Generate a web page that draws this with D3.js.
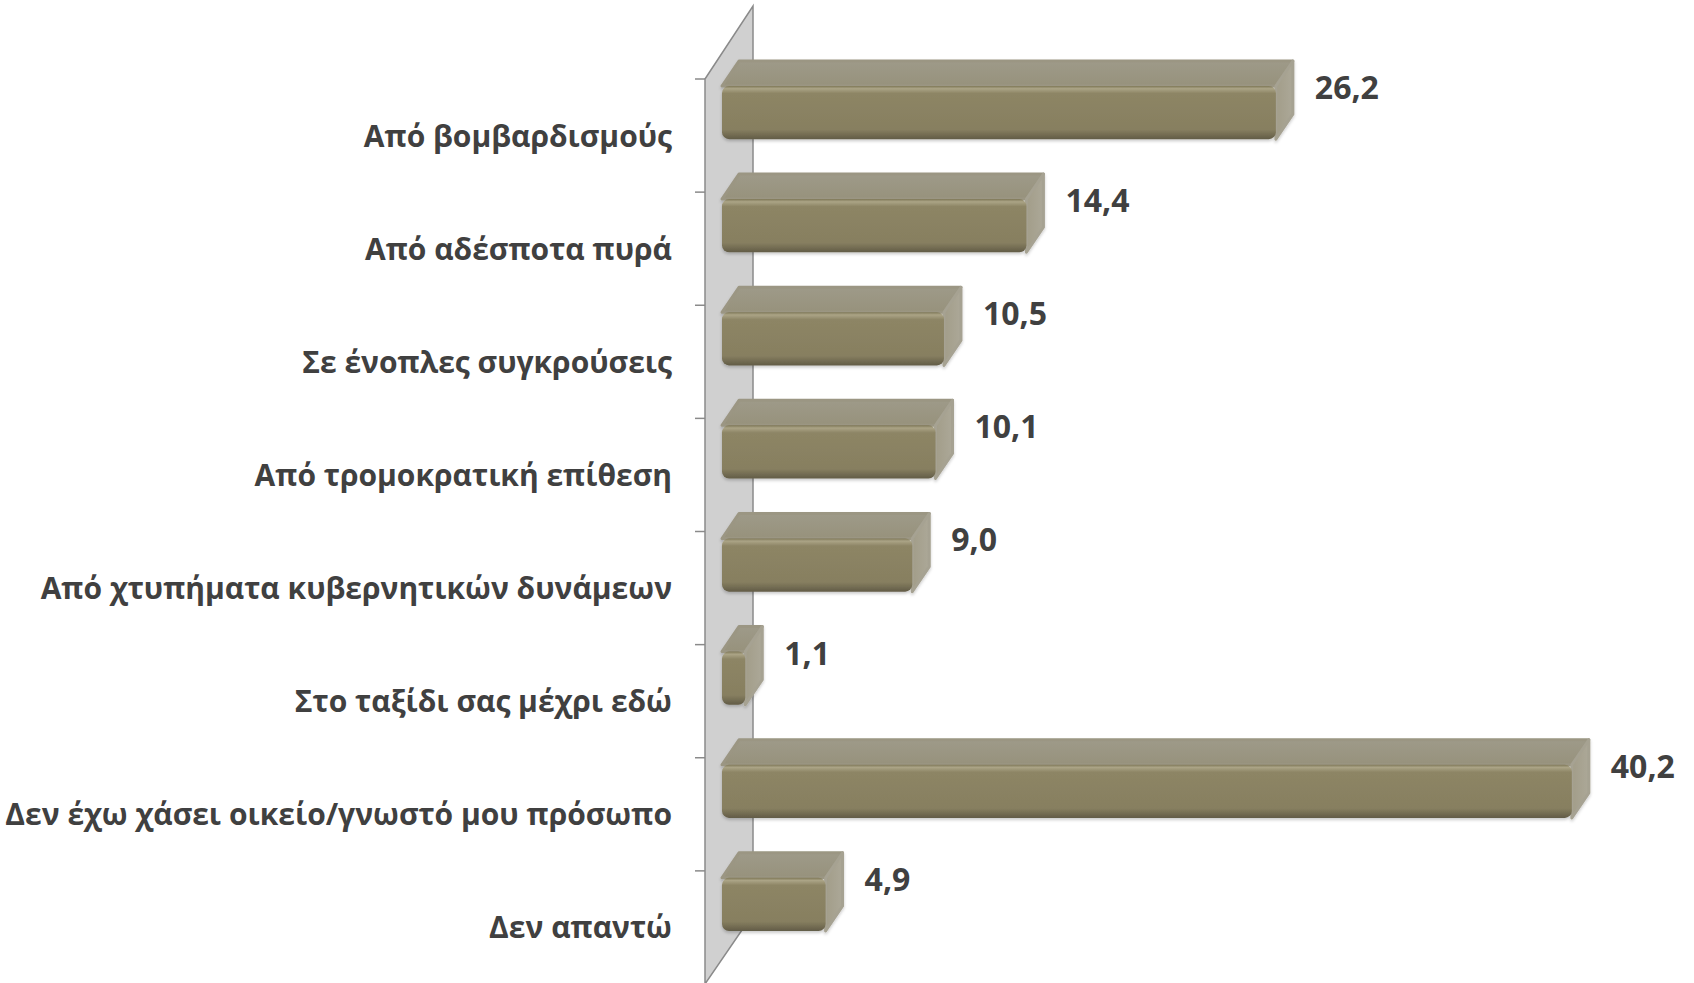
<!DOCTYPE html>
<html>
<head>
<meta charset="utf-8">
<script src="https://cdn.jsdelivr.net/npm/d3@7"></script>
<style>
  body { margin: 0; background: #fff; }
  svg { display: block; }
  text { font-family: "Open Sans", "Noto Sans", sans-serif; font-weight: bold; fill: #404040; }
</style>
</head>
<body>
<svg id="chart"></svg>
<script>
const categories = [
  "Από βομβαρδισμούς",
  "Από αδέσποτα πυρά",
  "Σε ένοπλες συγκρούσεις",
  "Από τρομοκρατική επίθεση",
  "Από χτυπήματα κυβερνητικών δυνάμεων",
  "Στο ταξίδι σας μέχρι εδώ",
  "Δεν έχω χάσει οικείο/γνωστό μου πρόσωπο",
  "Δεν απαντώ"
];
const values = [26.2, 14.4, 10.5, 10.1, 9.0, 1.1, 40.2, 4.9];
const valueLabels = ["26,2", "14,4", "10,5", "10,1", "9,0", "1,1", "40,2", "4,9"];

const width = 1694, height = 983;
const svg = d3.select("#chart").attr("width", width).attr("height", height);

// plot geometry (front plane of the wall + 3d depth)
const plotLeft = 705, plotTop = 79, plotBottom = 984;
const wallDepth = { dx: 48, dy: -73, dyBottom: -70 };
const barShift = { dx: 17, dy: -23 };   // front face of bars sits behind the wall front
const barDepth = { dx: 17, dy: -25 };

const x = d3.scaleLinear().domain([0, 45]).range([plotLeft, plotLeft + 45 * 21.14]);
const y = d3.scaleBand().domain(categories).range([plotTop, plotBottom])
  .paddingInner(0.53).paddingOuter(0.265);

const defs = svg.append("defs");
const gFront = defs.append("linearGradient").attr("id", "front").attr("x1", 0).attr("y1", 0).attr("x2", 0).attr("y2", 1);
[["0%", "#7f7858"], ["5%", "#aba486"], ["14%", "#8d8565"], ["82%", "#877f60"], ["100%", "#625c47"]]
  .forEach(s => gFront.append("stop").attr("offset", s[0]).attr("stop-color", s[1]));
const gTop = defs.append("linearGradient").attr("id", "top").attr("x1", 0).attr("y1", 0).attr("x2", 0).attr("y2", 1);
[["0%", "#9e9a89"], ["100%", "#97927c"]]
  .forEach(s => gTop.append("stop").attr("offset", s[0]).attr("stop-color", s[1]));
const gSide = defs.append("linearGradient").attr("id", "side").attr("x1", 0).attr("y1", 0).attr("x2", 1).attr("y2", 0);
[["0%", "#a29d89"], ["100%", "#aca898"]]
  .forEach(s => gSide.append("stop").attr("offset", s[0]).attr("stop-color", s[1]));
defs.append("filter").attr("id", "shadow").attr("x", "-10%").attr("y", "-20%").attr("width", "130%").attr("height", "150%")
  .append("feDropShadow").attr("dx", 0).attr("dy", 2).attr("stdDeviation", 1.5)
  .attr("flood-color", "#000").attr("flood-opacity", 0.2);

// wall
const x0 = x(0);
svg.append("path")
  .attr("d", `M${x0},${plotTop} L${x0 + wallDepth.dx},${plotTop + wallDepth.dy} ` +
             `L${x0 + wallDepth.dx},${plotBottom + wallDepth.dyBottom} L${x0},${plotBottom} Z`)
  .attr("fill", "#d0d0d0")
  .attr("stroke", "#8a8a8a")
  .attr("stroke-width", 1.5);

// ticks at category boundaries
const step = y.step();
svg.append("g").selectAll("line")
  .data(d3.range(categories.length + 1))
  .enter()
  .append("line")
  .attr("x1", x0 - 10).attr("x2", x0)
  .attr("y1", i => plotTop + i * step).attr("y2", i => plotTop + i * step)
  .attr("stroke", "#8a8a8a").attr("stroke-width", 1.5);

// bars
const rows = categories.map((c, i) => ({ c, v: values[i], label: valueLabels[i] }));
const bars = svg.append("g").selectAll("g")
  .data(rows)
  .enter()
  .append("g")
  .attr("filter", "url(#shadow)");

const fx0 = () => x(0) + barShift.dx;
const fx1 = d => x(d.v) + barShift.dx;
const ft = d => y(d.c) + barShift.dy;
const fb = d => y(d.c) + barShift.dy + y.bandwidth();

bars.append("path")
  .attr("d", d => `M${fx0()},${ft(d)} L${fx0() + barDepth.dx},${ft(d) + barDepth.dy} ` +
                  `L${fx1(d) + barDepth.dx},${ft(d) + barDepth.dy} L${fx1(d)},${ft(d)} Z`)
  .attr("fill", "url(#top)")
  .attr("stroke", "#9b9683").attr("stroke-width", 3).attr("stroke-linejoin", "round");

bars.append("path")
  .attr("d", d => `M${fx1(d)},${ft(d)} L${fx1(d) + barDepth.dx},${ft(d) + barDepth.dy} ` +
                  `L${fx1(d) + barDepth.dx},${fb(d) + barDepth.dy} L${fx1(d)},${fb(d)} Z`)
  .attr("fill", "url(#side)")
  .attr("stroke", "#a6a292").attr("stroke-width", 3).attr("stroke-linejoin", "round");

bars.append("rect")
  .attr("x", fx0())
  .attr("y", d => ft(d))
  .attr("width", d => fx1(d) - fx0())
  .attr("height", y.bandwidth())
  .attr("rx", 7).attr("ry", 7)
  .attr("fill", "url(#front)");

// value labels
svg.append("g").selectAll("text")
  .data(rows)
  .enter()
  .append("text")
  .attr("x", d => fx1(d) + barDepth.dx + 22)
  .attr("y", d => y(d.c) - 10)
  .style("font-size", "32px")
  .text(d => d.label);

// category labels
svg.append("g").selectAll("text")
  .data(categories)
  .enter()
  .append("text")
  .attr("x", 672)
  .attr("y", d => y(d) + y.bandwidth() / 2 + 11)
  .attr("text-anchor", "end")
  .style("font-size", "30px")
  .text(d => d);
</script>
</body>
</html>
